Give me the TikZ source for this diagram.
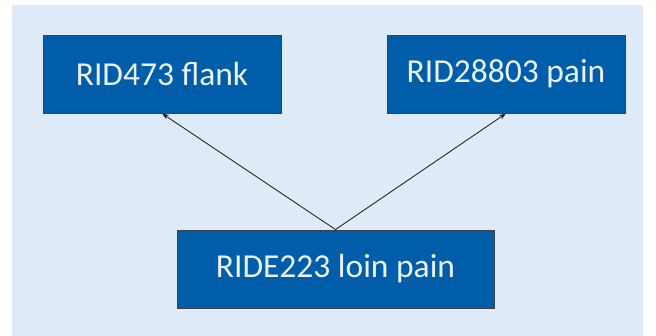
\documentclass[tikz,border=0pt]{standalone}
\usepackage{fontspec}
\setmainfont{Carlito}
\usetikzlibrary{arrows.meta}
\definecolor{bgblue}{RGB}{222,234,247}
\definecolor{boxblue}{RGB}{0,93,170}
\definecolor{boxedge}{RGB}{60,65,75}
\definecolor{txt}{RGB}{235,241,248}
\definecolor{arr}{RGB}{40,40,40}
\tikzset{
  rbox/.style={draw=boxedge, line width=0.9pt, fill=boxblue, text=txt,
    font=\fontsize{33.5}{40}\selectfont, inner sep=0pt, anchor=center},
  link/.style={draw=arr, line width=0.9pt, -{Stealth[length=7pt,width=5pt]}}
}
\begin{document}
\begin{tikzpicture}[x=1pt,y=-1pt]
\fill[white] (0,0) rectangle (656,336);
\useasboundingbox (0,0) rectangle (656,336);
\fill[bgblue] (12,5) rectangle (643,336);
\node[rbox, minimum width=238pt, minimum height=78pt] (a) at (162,74) {RID473 flank};
\node[rbox, minimum width=238pt, minimum height=78pt] (b) at (506,74) {RID28803 pain};
\node[rbox, minimum width=317pt, minimum height=78pt] (c) at (335.5,269) {RIDE223 loin pain};
\draw[link] (c.north) -- (a.south);
\draw[link] (c.north) -- (b.south);
\end{tikzpicture}
\end{document}
